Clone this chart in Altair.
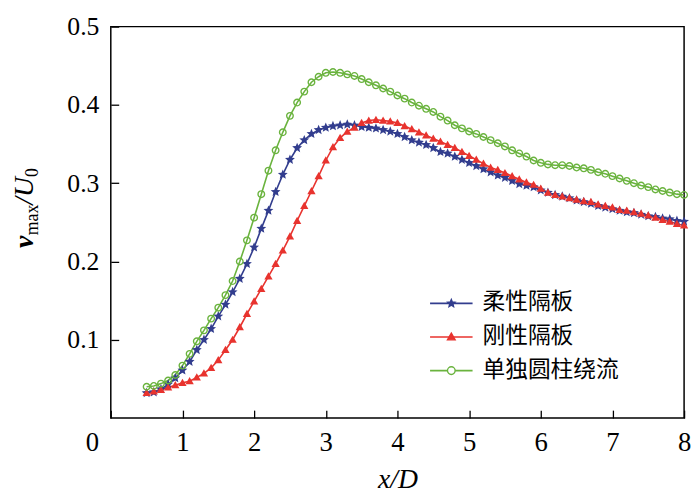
import math
import altair as alt
import pandas as pd

# ---------------- data ----------------
x_d = [0.5, 0.6, 0.7, 0.8, 0.9, 1.0, 1.1, 1.2, 1.3, 1.4,
       1.5, 1.6, 1.7, 1.8, 1.9, 2.0, 2.1, 2.2, 2.3, 2.4,
       2.5, 2.6, 2.7, 2.8, 2.9, 3.0, 3.1, 3.2, 3.3, 3.4,
       3.5, 3.6, 3.7, 3.8, 3.9, 4.0, 4.1, 4.2, 4.3, 4.4,
       4.5, 4.6, 4.7, 4.8, 4.9, 5.0, 5.1, 5.2, 5.3, 5.4,
       5.5, 5.6, 5.7, 5.8, 5.9, 6.0, 6.1, 6.2, 6.3, 6.4,
       6.5, 6.6, 6.7, 6.8, 6.9, 7.0, 7.1, 7.2, 7.3, 7.4,
       7.5, 7.6, 7.7, 7.8, 7.9, 8.0]

flexible = [0.032, 0.033, 0.037, 0.043, 0.051, 0.061, 0.072, 0.087, 0.100, 0.114,
            0.130, 0.145, 0.161, 0.178, 0.197, 0.218, 0.242, 0.265, 0.289, 0.311,
            0.330, 0.345, 0.355, 0.363, 0.368, 0.371, 0.373, 0.374, 0.375, 0.374,
            0.372, 0.371, 0.370, 0.368, 0.366, 0.363, 0.359, 0.355, 0.352, 0.349,
            0.345, 0.340, 0.338, 0.334, 0.330, 0.326, 0.322, 0.318, 0.314, 0.310,
            0.307, 0.303, 0.299, 0.297, 0.295, 0.291, 0.288, 0.285, 0.283, 0.281,
            0.278, 0.276, 0.274, 0.271, 0.269, 0.267, 0.265, 0.263, 0.262, 0.260,
            0.258, 0.257, 0.255, 0.254, 0.252, 0.251]

rigid = [0.032, 0.034, 0.036, 0.039, 0.042, 0.045, 0.047, 0.052, 0.057, 0.064,
         0.074, 0.087, 0.100, 0.116, 0.133, 0.149, 0.165, 0.181, 0.197, 0.214,
         0.232, 0.252, 0.271, 0.290, 0.309, 0.329, 0.346, 0.358, 0.366, 0.371,
         0.377, 0.380, 0.381, 0.380, 0.379, 0.377, 0.373, 0.369, 0.365, 0.361,
         0.357, 0.353, 0.349, 0.345, 0.340, 0.335, 0.330, 0.325, 0.320, 0.317,
         0.313, 0.309, 0.305, 0.301, 0.298, 0.293, 0.288, 0.285, 0.283, 0.281,
         0.279, 0.277, 0.276, 0.273, 0.271, 0.269, 0.266, 0.265, 0.263, 0.261,
         0.259, 0.256, 0.253, 0.251, 0.248, 0.246]

single = [0.040, 0.041, 0.044, 0.048, 0.055, 0.067, 0.082, 0.098, 0.112, 0.127,
          0.141, 0.157, 0.175, 0.200, 0.227, 0.256, 0.286, 0.316, 0.342, 0.365,
          0.386, 0.403, 0.417, 0.429, 0.436, 0.441, 0.442, 0.441, 0.439, 0.437,
          0.433, 0.429, 0.425, 0.421, 0.417, 0.412, 0.408, 0.403, 0.399, 0.395,
          0.391, 0.385, 0.380, 0.374, 0.370, 0.366, 0.363, 0.359, 0.355, 0.351,
          0.347, 0.342, 0.338, 0.334, 0.329, 0.326, 0.324, 0.323, 0.323, 0.322,
          0.320, 0.319, 0.317, 0.314, 0.312, 0.309, 0.306, 0.303, 0.300, 0.297,
          0.295, 0.292, 0.290, 0.288, 0.286, 0.285]

series_names = ["柔性隔板", "刚性隔板", "单独圆柱绕流"]
x_ticks = [0, 1, 2, 3, 4, 5, 6, 7, 8]
y_ticks = [0.1, 0.2, 0.3, 0.4, 0.5]
x_title = "x/D"
# y title pieces: (text, is_subscript, bold, italic)
y_title_parts = [("v", False, True, True), ("max", True, False, False),
                 ("/U", False, False, True), ("0", True, False, False)]

# ---------------- styles ----------------
colors = ["#323d8e", "#e8332e", "#6ab33e"]
marker_fill = ["#323d8e", "#e8332e", "white"]
serif = "Liberation Serif"
cjk = "Noto Sans CJK SC"
W, H = 580, 396

rows = []
for name, vals in zip(series_names, [flexible, rigid, single]):
    for xv, yv in zip(x_d, vals):
        rows.append({"x": xv, "v": yv, "series": name})
df = pd.DataFrame(rows)
legend_df = pd.DataFrame({"series": series_names})


def star(r_out, r_in):
    pts = []
    for k in range(10):
        a = math.radians(-90 + 36 * k)
        r = r_out if k % 2 == 0 else r_in
        pts.append(f"{r * math.cos(a):.3f},{r * math.sin(a):.3f}")
    return "M" + "L".join(pts) + "Z"


def tri(s):
    return f"M0,{-s:.3f}L{s:.3f},{0.75 * s:.3f}L{-s:.3f},{0.75 * s:.3f}Z"


def circ(r):
    return f"M{r},0A{r},{r} 0 1,1 {-r},0A{r},{r} 0 1,1 {r},0Z"


plot_shapes = [star(1, 0.45), tri(1), circ(1)]
plot_sizes = [110, 70, 44]
plot_filled = [True, True, False]

xs = alt.Scale(domain=[0, 8], nice=False, zero=False)
ys = alt.Scale(domain=[0, 0.5], nice=False)

X = alt.X("x:Q", scale=xs, axis=alt.Axis(
    values=x_ticks, format="d", title=x_title, titleFontStyle="italic",
    titleFontSize=28, titleBaseline="alphabetic", titleY=78,
    labelPadding=12, labelFlush=False,
    labelOffset={"condition": {"test": "datum.value == 0", "value": -19}, "value": 0},
))
Y = alt.Y("v:Q", scale=ys, axis=alt.Axis(
    values=y_ticks, format=".1f", title=None, labelPadding=12, labelFlush=False,
    labelFontSize=26,
))

cscale = alt.Scale(domain=series_names, range=colors)

lines = alt.Chart(df).mark_line(strokeWidth=1.6).encode(
    x=X, y=Y, color=alt.Color("series:N", scale=cscale, legend=None)
)

data_layers = [lines]
for i, name in enumerate(series_names):
    pts = alt.Chart(df).transform_filter(alt.datum.series == name).mark_point(
        shape=plot_shapes[i], size=plot_sizes[i], filled=plot_filled[i],
        opacity=1, strokeWidth=1.4,
    ).encode(x=X, y=Y, color=alt.Color("series:N", scale=cscale, legend=None))
    data_layers.append(pts)

# y-axis title built from rotated text pieces (bold italic v, subscripts)
main_size, sub_size = 28, 18
advance = {"v": 0.46 * main_size, "max": 1.72 * sub_size, "/U": 1.0 * main_size, "0": 0.5 * sub_size}
y_pos = 224
for text, is_sub, bold, italic in y_title_parts:
    data_layers.append(
        alt.Chart().mark_text(
            text=text, angle=270, align="left", baseline="alphabetic",
            font=serif, fontSize=sub_size if is_sub else main_size,
            fontStyle="italic" if italic else "normal",
            fontWeight="bold" if bold else "normal", color="black",
        ).encode(x=alt.value(-74 if is_sub else -79), y=alt.value(y_pos))
    )
    y_pos -= advance[text]

# ---------------- legend (line + marker + label per series) ----------------
LY = alt.Y("series:N", scale=alt.Scale(type="point", domain=series_names, range=[280, 348], padding=0),
           axis=None)
leg_line = alt.Chart(legend_df).mark_rule(strokeWidth=1.6).encode(
    x=alt.value(323), x2=alt.value(366), y=LY,
    color=alt.Color("series:N", scale=cscale, legend=None),
)
leg_pts = alt.Chart(legend_df).mark_point(opacity=1, strokeWidth=1.4, size=60).encode(
    x=alt.value(344.5), y=LY,
    shape=alt.Shape("series:N", scale=alt.Scale(domain=series_names, range=plot_shapes), legend=None),
    fill=alt.Fill("series:N", scale=alt.Scale(domain=series_names, range=marker_fill), legend=None),
    stroke=alt.Stroke("series:N", scale=alt.Scale(domain=series_names, range=colors), legend=None),
)
leg_text = alt.Chart(legend_df).mark_text(
    align="left", baseline="middle", font=cjk, fontSize=23, color="black", dy=-1
).encode(x=alt.value(376), y=LY, text="series:N")

chart = alt.layer(
    alt.layer(*data_layers),
    alt.layer(leg_line, leg_pts, leg_text),
).resolve_scale(y="independent").properties(
    width=W, height=H,
    autosize=alt.AutoSizeParams(type="none"),
    padding={"left": 104, "top": 16, "right": 8, "bottom": 75},
    background="white",
).configure_view(
    stroke="black", strokeWidth=1.5
).configure_axis(
    domain=False, grid=False, ticks=True, tickSize=8, tickWidth=1.3,
    tickColor="black", offset=-8,
    labelFont=serif, labelFontSize=27, labelColor="black",
    titleFont=serif, titleFontSize=26, titleFontWeight="normal", titleColor="black",
)

chart.save("out.html", embed_options={"renderer": "svg", "actions": False})
